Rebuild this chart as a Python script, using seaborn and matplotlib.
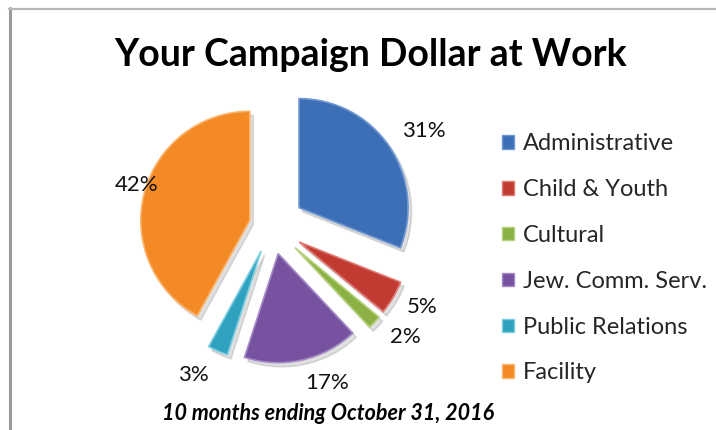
import matplotlib
matplotlib.use("Agg")
import matplotlib.pyplot as plt
import seaborn as sns
from matplotlib.patches import Patch
from matplotlib.lines import Line2D

sns.set_theme(style="white")
plt.rcParams['font.family'] = ['Lato', 'DejaVu Sans']

# data
categories = ['Administrative', 'Child & Youth', 'Cultural',
              'Jew. Comm. Serv.', 'Public Relations', 'Facility']
shares = [31, 5, 2, 17, 3, 42]
colors = ['#3d6fb6', '#c23b33', '#8bb043', '#7652a1', '#2fa2c0', '#f38a26']
edge_colors = ['#6f98d2', '#e07a74', '#b5d27c', '#a58bc6', '#7fcde0', '#fbb56e']
explode = [0.30, 0.29, 0.29, 0.26, 0.25, 0.21]

W, H = 716, 430
fig = plt.figure(figsize=(W / 100, H / 100), dpi=100)
ax = fig.add_axes([0, 0, 1, 1])

cx, cy, r = 272, H - 226, 109
wedges, _ = ax.pie(shares, colors=colors, explode=[e * r for e in explode],
                   startangle=90, counterclock=False, center=(cx, cy), radius=r,
                   shadow=dict(ox=2.5, oy=-3, shade=0.0, alpha=0.18, color='#555555'),
                   wedgeprops=dict(linewidth=1.2))
for w, ec in zip(wedges, edge_colors):
    w.set_edgecolor(ec)

ax.set_xlim(0, W)
ax.set_ylim(0, H)
ax.set_aspect('equal')
ax.axis('off')

# percent labels (pixel positions, y from top)
label_pos = [(424, 131), (422, 307), (405, 337), (327, 383), (193, 375), (137, 185)]
for v, (lx, ly) in zip(shares, label_pos):
    ax.text(lx, H - ly, f'{v}%', ha='center', va='center', fontsize=16, color='#111111')

ax.text(371, H - 55, 'Your Campaign Dollar at Work', ha='center', va='center',
        fontsize=27, fontweight='bold', color='black')
ax.text(328, H - 413, '10 months ending October 31, 2016', ha='center', va='center',
        fontsize=15.5, fontweight='bold', fontstyle='italic', color='black')

handles = [Patch(facecolor=c, edgecolor=e, linewidth=1) for c, e in zip(colors, edge_colors)]
leg = ax.legend(handles, categories, loc='upper left', bbox_to_anchor=(493 / W, 1 - 124 / H),
                frameon=False, fontsize=17, handlelength=0.5, handleheight=0.5,
                handletextpad=0.35, labelspacing=1.05, borderaxespad=0)

# chart frame edges
fig.add_artist(Line2D([10 / W, 10 / W], [0, 1 - 8 / H], color='#999999', lw=2.2))
fig.add_artist(Line2D([9 / W, 1], [1 - 9 / H, 1 - 9 / H], color='#b8b8b8', lw=1.6))

fig.savefig('out.png', dpi=100, facecolor='white')
